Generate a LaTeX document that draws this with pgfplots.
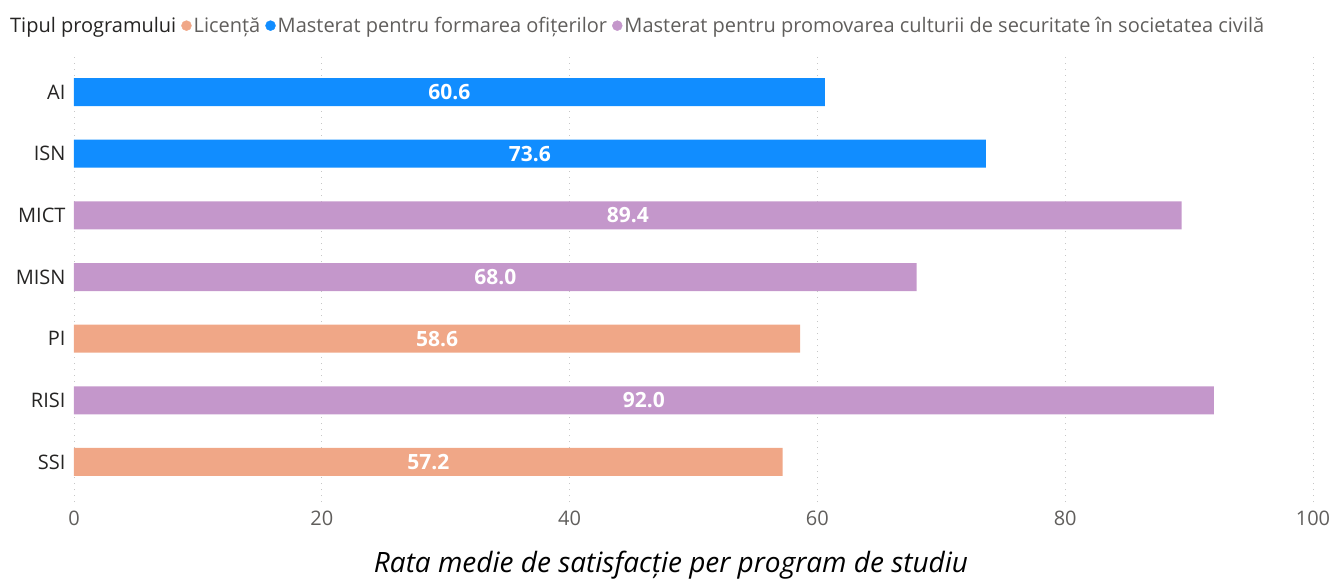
\documentclass[border=0pt]{standalone}
\usepackage{fontspec}
\setmainfont{Open Sans}
\usepackage{pgfplots}
\usepackage{pgfplotstable}
\pgfplotsset{compat=1.18}
\definecolor{cblue}{HTML}{118DFF}
\definecolor{corange}{HTML}{F0A787}
\definecolor{cpurple}{HTML}{C497CB}
\definecolor{tdark}{HTML}{252423}
\definecolor{tgray}{HTML}{605E5C}
\pgfplotstableread{
y v
6 60.6
5 73.6
4 89.4
3 68.0
2 58.6
1 92.0
0 57.2
}\labtab
\begin{document}
\begin{tikzpicture}[x=1pt,y=1pt]
\useasboundingbox (0,0) rectangle (1333,582);
\begin{axis}[
 at={(74pt,80pt)}, anchor=south west,
 scale only axis, width=1239pt, height=450pt,
 xmin=0, xmax=100, ymin=-0.65, ymax=6.65,
 axis line style={draw=none},
 xtick={0,20,...,100}, ytick={0,...,6},
 yticklabels={SSI,RISI,PI,MISN,MICT,ISN,AI},
 major tick length=0pt,
 xmajorgrids, grid style={black!22, line width=0.9pt, dash pattern=on 1.2pt off 4.8pt},
 /pgf/number format/assume math mode=true,
 xticklabel style={font=\fontsize{20}{24}\selectfont, text=tgray, yshift=-5pt},
 yticklabel style={font=\fontsize{20}{24}\selectfont, text=tdark, xshift=-5pt},
 legend style={at={(-0.0533,1.0586)}, anchor=west, draw=none, fill=none,
   legend columns=-1, font=\fontsize{20}{24}\selectfont, text=tgray,
   /tikz/every odd column/.append style={column sep=0pt},
   /tikz/every even column/.append style={column sep=3pt},
   legend cell align=left, inner sep=0pt},
 legend image code/.code={\fill[#1] (0.3em,0pt) circle (5pt);},
]
\addlegendimage{empty legend}
\addlegendentry{\textcolor{tdark}{Tipul programului}\hspace{4pt}}
\addlegendimage{corange}
\addlegendentry{Licență}
\addlegendimage{cblue}
\addlegendentry{Masterat pentru formarea ofițerilor}
\addlegendimage{cpurple}
\addlegendentry{Masterat pentru promovarea culturii de securitate în societatea civilă}

\addplot[xbar, bar width=28pt, bar shift=0pt, fill=cblue, draw=none, forget plot]
 coordinates {(60.6,6) (73.6,5)};
\addplot[xbar, bar width=28pt, bar shift=0pt, fill=cpurple, draw=none, forget plot]
 coordinates {(89.4,4) (68.0,3) (92.0,1)};
\addplot[xbar, bar width=28pt, bar shift=0pt, fill=corange, draw=none, forget plot]
 coordinates {(58.6,2) (57.2,0)};

\addplot[only marks, mark=none, forget plot, nodes near coords, point meta=explicit,
 every node near coord/.append style={anchor=center, text=white,
   font=\fontsize{21}{25}\selectfont\bfseries,
   /pgf/number format/.cd, fixed, fixed zerofill, precision=1, assume math mode=true}]
 table[x expr=\thisrow{v}/2, y=y, meta=v] {\labtab};
\end{axis}
\node[font=\fontsize{28}{33}\selectfont\itshape, text=black] at (671,17) {Rata medie de satisfacție per program de studiu};
\end{tikzpicture}
\end{document}
